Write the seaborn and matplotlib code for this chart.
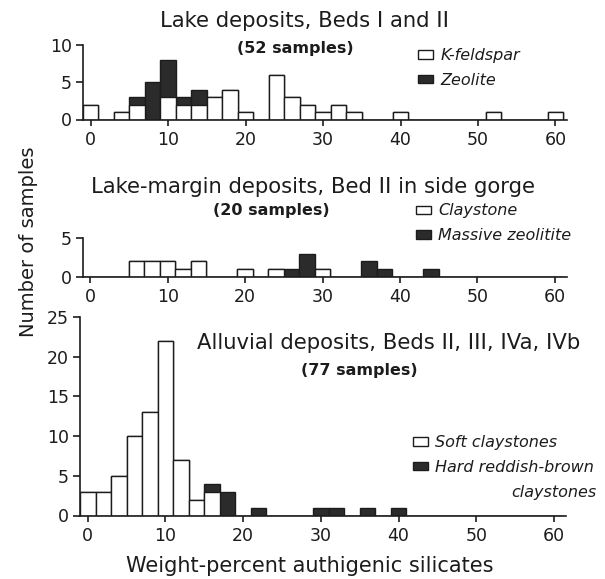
import numpy as np
import pandas as pd
import matplotlib
matplotlib.use("Agg")
import matplotlib.pyplot as plt
import seaborn as sns
from matplotlib.patches import Patch

# ---------------- data (bin centres in weight-percent, counts) ----------------
lake_pct   = [0, 4, 6, 8, 10, 12, 14, 16, 18, 20, 24, 26, 28, 30, 32, 34, 40, 52, 60]
lake_kfeld = [2, 1, 2, 0, 3, 2, 2, 3, 4, 1, 6, 3, 2, 1, 2, 1, 1, 1, 1]
lake_zeol  = [0, 0, 1, 5, 5, 1, 2, 0, 0, 0, 0, 0, 0, 0, 0, 0, 0, 0, 0]

margin_pct  = [6, 8, 10, 12, 14, 20, 24, 26, 28, 30, 36, 38, 44]
margin_clay = [2, 2, 2, 1, 2, 1, 1, 0, 0, 1, 0, 0, 0]
margin_zeol = [0, 0, 0, 0, 0, 0, 0, 1, 3, 0, 2, 1, 1]

alluv_pct  = [0, 2, 4, 6, 8, 10, 12, 14, 16, 18, 22, 30, 32, 36, 40]
alluv_soft = [3, 3, 5, 10, 13, 22, 7, 2, 3, 0, 0, 0, 0, 0, 0]
alluv_hard = [0, 0, 0, 0, 0, 0, 0, 0, 1, 3, 1, 1, 1, 1, 1]

x_ticks = [0, 10, 20, 30, 40, 50, 60]
lake_yticks = [0, 5, 10]
margin_yticks = [0, 5]
alluv_yticks = [0, 5, 10, 15, 20, 25]

titles = ["Lake deposits, Beds I and II",
          "Lake-margin deposits, Bed II in side gorge",
          "Alluvial deposits, Beds II, III, IVa, IVb"]
subtitles = ["(52 samples)", "(20 samples)", "(77 samples)"]
legend_labels = [["K-feldspar", "Zeolite"],
                 ["Claystone", "Massive zeolitite"],
                 ["Soft claystones", "Hard reddish-brown"]]
x_label = "Weight-percent authigenic silicates"
y_label = "Number of samples"

# ---------------- style ----------------
sns.set_style("ticks")
plt.rcParams["font.family"] = ["DejaVu Sans"]
INK = "#1c1c1c"
DARK = "#2b2b2b"
plt.rcParams.update({
    "axes.edgecolor": INK, "xtick.color": INK, "ytick.color": INK,
    "text.color": INK, "axes.labelcolor": INK,
})

W, H = 605, 579
fig = plt.figure(figsize=(W / 100, H / 100), dpi=100)
fig.patch.set_facecolor("white")


def fx(x):
    return x / W


def fy(y):
    return 1 - y / H


edges = [float(e) for e in np.arange(-1, 63, 2)]


def panel(rect, pct, white, dark, yticks, ymax):
    ax = fig.add_axes(rect)
    df = pd.DataFrame({"pct": pct, "white": white, "dark": dark})
    df["total"] = df["white"] + df["dark"]
    sns.histplot(data=df, x="pct", weights="total", bins=edges, color=DARK,
                 edgecolor=INK, linewidth=1.0, alpha=1, ax=ax)
    sns.histplot(data=df, x="pct", weights="white", bins=edges, color="white",
                 edgecolor=INK, linewidth=1.0, alpha=1, ax=ax)
    ax.set_xlim(-1, 61.5)
    ax.set_ylim(0, ymax)
    ax.set_xticks(x_ticks)
    ax.set_yticks(yticks)
    ax.set_xlabel("")
    ax.set_ylabel("")
    ax.set_facecolor("none")
    sns.despine(ax=ax)
    for s in ("left", "bottom"):
        ax.spines[s].set_linewidth(1.2)
    ax.tick_params(axis="x", length=4, width=1.2, labelsize=12.5, pad=4)
    ax.tick_params(axis="y", length=5, width=1.2, labelsize=12.5, pad=3)
    return ax


ax1 = panel([fx(83), fy(119.5), 484 / W, 75 / H],
            lake_pct, lake_kfeld, lake_zeol, lake_yticks, 10)
ax2 = panel([fx(82.5), fy(277), 484 / W, 39 / H],
            margin_pct, margin_clay, margin_zeol, margin_yticks, 5)
ax3 = panel([fx(80), fy(515.5), 485.6 / W, 198.7 / H],
            alluv_pct, alluv_soft, alluv_hard, alluv_yticks, 25)

# titles and subtitles
title_pos = [(305, 21), (313, 187), (389, 343)]
sub_pos = [(295, 48), (271, 210), (359, 371)]
for (tx, ty), t in zip(title_pos, titles):
    fig.text(fx(tx), fy(ty), t, ha="center", va="center", fontsize=15.2)
for (sx, sy), t in zip(sub_pos, subtitles):
    fig.text(fx(sx), fy(sy), t, ha="center", va="center", fontsize=11.5,
             fontweight="bold")

# legends
leg_pos = [(ax1, 418, 48), (ax2, 416, 203.5), (ax3, 413, 435)]
for (ax, lx, ly), labs in zip(leg_pos, legend_labels):
    handles = [Patch(facecolor="white", edgecolor=INK, linewidth=1.0),
               Patch(facecolor=DARK, edgecolor=INK, linewidth=1.0)]
    ax.legend(handles=handles, labels=labs, loc="upper left",
              bbox_to_anchor=(fx(lx), fy(ly)), bbox_transform=fig.transFigure,
              frameon=False, borderpad=0, borderaxespad=0, handlelength=0.95,
              handleheight=0.45, handletextpad=0.45, labelspacing=0.6,
              prop={"style": "italic", "size": 11.5})
fig.text(fx(597), fy(493), "claystones", ha="right", va="center",
         fontsize=11.5, style="italic")

# axis labels
fig.text(fx(310), fy(566), x_label, ha="center", va="center", fontsize=15)
fig.text(fx(29), fy(242), y_label, ha="center", va="center", fontsize=14,
         rotation=90)

fig.savefig("out.png", dpi=100, facecolor="white")
